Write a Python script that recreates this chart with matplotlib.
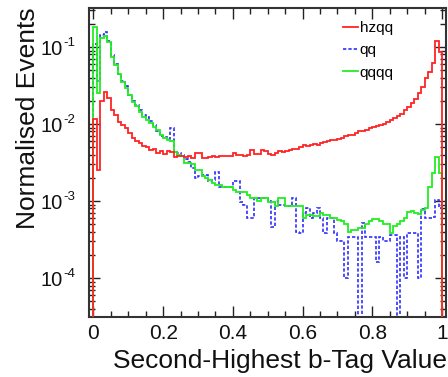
import numpy as np
import matplotlib
matplotlib.use("Agg")
import matplotlib.pyplot as plt
import matplotlib.transforms as mtransforms
from matplotlib.ticker import FixedLocator, LogLocator, NullFormatter

plt.rcParams['font.family'] = ['Liberation Sans', 'DejaVu Sans']

# 100 bins of width 0.01 on [0, 1]
bin_edges = np.linspace(0.0, 1.0, 101)

hzqq = [
    0.0115, 0.0025, 0.020, 0.026, 0.022, 0.015, 0.013, 0.0106, 0.0097, 0.0089,
    0.0077, 0.0065, 0.0060, 0.0057, 0.0052, 0.0050, 0.0046, 0.0047, 0.0042, 0.0044,
    0.0041, 0.0045, 0.0043, 0.0037, 0.0039, 0.0038, 0.0037, 0.0038, 0.0036, 0.0042,
    0.0042, 0.0036, 0.0036, 0.0037, 0.0038, 0.0037, 0.0038, 0.0039, 0.0038, 0.0039,
    0.0042, 0.0040, 0.0040, 0.0039, 0.0040, 0.0046, 0.0041, 0.0041, 0.0046, 0.0044,
    0.0041, 0.0040, 0.0042, 0.0044, 0.0043, 0.0045, 0.0046, 0.0048, 0.0047, 0.0051,
    0.0053, 0.0052, 0.0053, 0.0055, 0.0054, 0.0057, 0.0058, 0.0060, 0.0062, 0.0062,
    0.0064, 0.0066, 0.0070, 0.0072, 0.0072, 0.0077, 0.0082, 0.0080, 0.0084, 0.0088,
    0.0092, 0.0094, 0.0098, 0.0100, 0.0105, 0.0112, 0.0118, 0.0126, 0.0135, 0.0150,
    0.0165, 0.019, 0.021, 0.025, 0.030, 0.040, 0.047, 0.062, 0.12, 0.085,
]

qq = [
    0.11, 0.036, 0.143, 0.158, 0.12, 0.078, 0.060, 0.045, 0.036, 0.031,
    0.024, 0.020, 0.0175, 0.0150, 0.0130, 0.0125, 0.0110, 0.0098, 0.0080, 0.0070,
    0.0068, 0.0063, 0.0089, 0.0043, 0.0042, 0.0040, 0.0035, 0.0032, 0.0027, 0.0020,
    0.0021, 0.0022, 0.0022, 0.0018, 0.0019, 0.0024, 0.0015, 0.0015, 0.0015, 0.0015,
    0.0018, 0.0018, 0.00097, 0.0009, 0.0006, 0.0006, 0.0011, 0.0011, 0.0011, 0.0011,
    0.0010, 0.00046, 0.0010, 0.0009, 0.0009, 0.00085, 0.00085, 0.0011, 0.0004, 0.00039,
    0.0007, 0.0008, 0.0006, 0.0007, 0.0008, 0.0006, 0.00039, 0.0006, 0.0006, 0.00039,
    0.0003, 0.0003, 0.0001, 0.00034, 0.00034, 0.00034, 0.0, 0.00052, 0.00034, 0.00034,
    0.00034, 0.00016, 0.00034, 0.0003, 0.0003, 0.00036, 0.00036, 0.0, 0.00034, 0.0001,
    0.00039, 0.00039, 0.00039, 0.0001, 0.00078, 0.0006, 0.0006, 0.00062, 0.00103, 0.0008,
]

qqqq = [
    0.18, 0.025, 0.13, 0.14, 0.115, 0.075, 0.058, 0.044, 0.035, 0.029,
    0.024, 0.0195, 0.017, 0.0145, 0.0125, 0.0113, 0.0103, 0.0092, 0.0084, 0.0072,
    0.0066, 0.0062, 0.0060, 0.0043, 0.0040, 0.0038, 0.0031, 0.0031, 0.0030, 0.0025,
    0.0025, 0.0021, 0.0020, 0.0019, 0.0017, 0.0016, 0.0016, 0.0015, 0.0015, 0.0015,
    0.0014, 0.0013, 0.0013, 0.0013, 0.0012, 0.0011, 0.0011, 0.0010, 0.0011, 0.0011,
    0.00096, 0.00096, 0.00085, 0.0011, 0.0011, 0.00085, 0.00085, 0.00085, 0.00085, 0.00085,
    0.0006, 0.00066, 0.00066, 0.00063, 0.00063, 0.0007, 0.00066, 0.00066, 0.0006, 0.0006,
    0.00057, 0.00055, 0.00050, 0.00040, 0.00042, 0.00042, 0.00045, 0.00045, 0.00050, 0.00055,
    0.00058, 0.00058, 0.00055, 0.00050, 0.00050, 0.00039, 0.00048, 0.00050, 0.00055, 0.00060,
    0.00072, 0.00075, 0.00070, 0.00068, 0.00076, 0.00080, 0.0015, 0.0023, 0.0037, 0.0023,
]

series_labels = ['hzqq', 'qq', 'qqqq']
x_tick_values = [0, 0.2, 0.4, 0.6, 0.8, 1]
x_tick_labels = ['0', '0.2', '0.4', '0.6', '0.8', '1']
y_decades = [-4, -3, -2, -1]

W, H = 448, 377
fig = plt.figure(figsize=(W / 100, H / 100), dpi=100)
left, right, top, bottom = 88.5, 446, 8, 317
ax = fig.add_axes([left / W, (H - bottom) / H, (right - left) / W, (bottom - top) / H])

l_qq = ax.stairs(qq, bin_edges, color='#2f2fff', lw=1.2, linestyle=(0, (2.0, 1.2)),
                 label=series_labels[1], zorder=2)
l_qqqq = ax.stairs(qqqq, bin_edges, color='#22ee22', lw=1.3, label=series_labels[2], zorder=3)
l_hz = ax.stairs(hzqq, bin_edges, color='#ff2424', lw=1.3, label=series_labels[0], zorder=4)

ax.set_yscale('log')
ax.set_xlim(-0.0143, 1.0115)
ax.set_ylim(3.12e-5, 0.321)

ax.xaxis.set_major_locator(FixedLocator(x_tick_values))
ax.set_xticklabels(x_tick_labels)
ax.xaxis.set_minor_locator(FixedLocator(np.arange(0, 1.0001, 0.05)))
ax.yaxis.set_major_locator(FixedLocator([10.0 ** d for d in y_decades]))
ax.yaxis.set_minor_locator(LogLocator(base=10, subs=np.arange(2, 10), numticks=20))
ax.yaxis.set_minor_formatter(NullFormatter())
ax.yaxis.set_major_formatter(NullFormatter())

ax.tick_params(which='both', direction='in', top=True, right=True, colors='#222222',
               labelcolor='#111111', width=1.0)
ax.tick_params(which='major', length=8, labelsize=15)
ax.tick_params(which='minor', length=4.5)
ax.tick_params(axis='x', pad=5)
for s in ax.spines.values():
    s.set_color('#333333')
    s.set_linewidth(1.5)

# power-of-ten labels on the log axis: base and exponent as separate texts
offset = lambda dx, dy: mtransforms.offset_copy(ax.get_yaxis_transform(), fig=fig,
                                                x=dx, y=dy, units='dots')
for d in y_decades:
    ax.text(0, 10.0 ** d, '10', ha='right', va='baseline', fontsize=14.5,
            color='#111111', transform=offset(63 - left, -7.5), clip_on=False)
    ax.text(0, 10.0 ** d, '-%d' % abs(d), ha='left', va='baseline', fontsize=9.5,
            color='#111111', transform=offset(63.5 - left, 1.5), clip_on=False)

fig.text(447 / W, 9 / H, 'Second-Highest b-Tag Value', ha='right', va='baseline',
         fontsize=19, color='#111111')
fig.text(35 / W, (H - 7) / H, 'Normalised Events', ha='right', va='baseline',
         rotation=90, rotation_mode='anchor', fontsize=19, color='#111111')

ax.legend(handles=[l_hz, l_qq, l_qqqq], loc='upper left',
          bbox_to_anchor=(343 / W, (H - 21) / H),
          bbox_transform=fig.transFigure, frameon=False, fontsize=11,
          handlelength=0.95, handletextpad=0.15, labelspacing=0.55,
          borderpad=0, borderaxespad=0)

fig.savefig('out.png', dpi=100)
